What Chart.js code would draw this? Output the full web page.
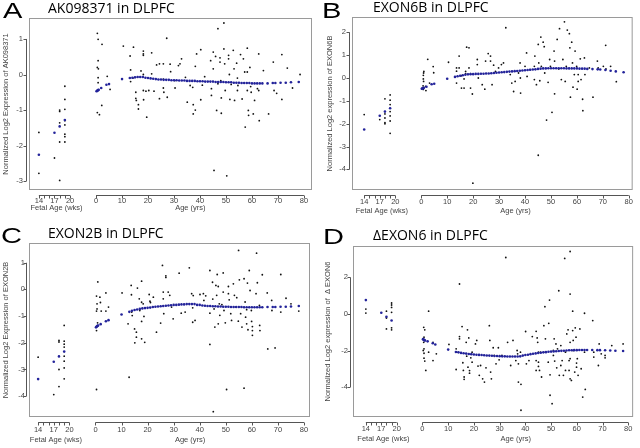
<!DOCTYPE html>
<html>
<head>
<meta charset="utf-8">
<script src="https://cdn.jsdelivr.net/npm/chart.js@4"></script>
<style>
  body { margin: 0; background: #fff; width: 640px; height: 448px; position: relative; overflow: hidden; }
  .panel { position: absolute; width: 320px; height: 224px; }
  .letter { position: absolute; font: 22px "Liberation Sans", sans-serif; line-height: 1; color: #000; transform: scaleX(1.32); transform-origin: 0 0; }
  .title { position: absolute; font: 14px "Open Sans", sans-serif; line-height: 1; color: #000; white-space: nowrap; }
</style>
</head>
<body>
<div class="panel" style="left:0;top:0"><canvas id="chartA" width="320" height="224"></canvas></div>
<div class="panel" style="left:320px;top:0"><canvas id="chartB" width="320" height="224"></canvas></div>
<div class="panel" style="left:0;top:224px"><canvas id="chartC" width="320" height="224"></canvas></div>
<div class="panel" style="left:320px;top:224px"><canvas id="chartD" width="320" height="224"></canvas></div>

<div class="letter" style="left:3px;top:0">A</div>
<div class="letter" style="left:322px;top:0">B</div>
<div class="letter" style="left:1px;top:225px">C</div>
<div class="letter" style="left:323px;top:226px">D</div>
<div class="title" style="left:48px;top:0.5px">AK098371 in DLPFC</div>
<div class="title" style="left:373px;top:0">EXON6B in DLPFC</div>
<div class="title" style="left:48px;top:225.5px">EXON2B in DLPFC</div>
<div class="title" style="left:373px;top:228px">ΔEXON6 in DLPFC</div>

<script>
// tick labels
const fetalTickWeeks = [14, 15, 16, 17, 18, 19, 20];
const fetalLabelWeeks = [14, 17, 20];
const yearTicks = [0, 10, 20, 30, 40, 50, 60, 70, 80];

// ages where the smoothed (blue) curve is plotted, shared by all panels
const fetalFitWeeks = [14, 17, 18, 19];
const fitAges = [0.2, 0.4, 0.6, 0.8, 1, 2, 4, 5, 10,
  13, 14, 15, 16, 17, 18, 19,
  20, 21, 22, 23, 24, 25, 26, 27, 28, 29,
  30, 31, 32, 33, 34, 35, 36, 37, 38, 39,
  40, 41, 42, 43, 44, 45, 46, 47, 48, 49,
  50, 51, 52, 53, 54, 55, 56, 57, 58, 59,
  60, 61, 62, 63, 64, 66, 68, 69, 71, 73, 75, 78];

// ---- A: AK098371 ----
const fetalA = [[14,-1.63],[14,-2.78],[17,-2.35],[18,-1.0],[18,-1.04],[18,-1.36],[18,-1.9],[18,-2.98],
  [19,-0.33],[19,-0.7],[19,-0.98],[19,-1.3],[19,-1.42],[19,-1.68],[19,-1.75],[19,-1.9]];
const fetalFitA = [-2.26, -1.64, -1.46, -1.28];
const postnatalA = [[0.5,1.16],[0.8,0.99],[2.3,0.85],[0.8,0.39],[0.5,0.2],[0.9,0.16],[0.8,-0.09],[0.8,-0.23],
  [4.3,-0.05],[5.4,-0.42],[2.2,-0.87],[0.5,-1.07],[1.3,-1.13],
  [10.5,0.8],[13.1,0.52],[13.3,0.13],[13.3,-0.2],[14.4,0.77],[14.2,-0.1],[15.3,-0.5],[15.3,-0.67],[15.5,-0.73],
  [16.3,-0.85],[16.3,-0.97],[17.3,0.1],[18.2,0.66],[18.2,0.58],[18.2,0.54],[18.2,0.0],[18.2,-0.45],[18.3,-0.71],
  [19.2,-0.47],[19.5,-1.2],[20.3,-0.45],[21.4,0.61],[21.4,0.02],[22.3,-0.47],[23.3,0.27],[24.4,0.3],[24.4,-0.68],
  [25.9,0.3],[25.9,-0.13],[25.9,-0.38],[26.1,-0.5],[27.2,1.02],[27.4,-0.64],[28.5,0.29],[28.7,0.08],[30.3,-0.17],
  [30.4,-0.38],[31.7,0.25],[32.3,0.3],[32.9,0.44],[34.4,-0.08],[35.1,-0.78],[36.2,-0.31],[37.2,-0.36],[37.4,-0.85],
  [37.4,-1.11],[38.2,-1.0],[38.2,0.23],[38.7,0.58],[40.3,0.7],[40.3,-0.71],[40.9,-0.3],[41.8,-0.06],[44.1,0.39],
  [44.4,-0.4],[44.4,-0.59],[45.1,0.63],[45.1,0.16],[45.4,-2.7],[46.0,0.51],[46.4,-1.01],[46.9,1.29],[46.9,-0.26],
  [47.7,0.35],[47.7,0.47],[48.0,-0.17],[48.2,-1.09],[48.2,-0.66],[49.2,1.45],[49.2,0.72],[49.5,0.3],[49.7,-0.45],
  [50.3,-2.85],[51.0,0.54],[51.0,0.44],[51.3,0.0],[51.5,-0.7],[52.0,-0.28],[52.8,0.68],[53.1,0.16],[53.3,-0.73],
  [54.1,0.32],[54.4,-0.1],[54.4,-0.45],[54.6,-0.31],[55.6,0.56],[56.2,-0.69],[56.7,0.44],[57.2,0.07],[57.4,-1.48],
  [58.2,0.74],[58.2,0.07],[58.2,-0.45],[58.6,-1.01],[58.7,-1.15],[59.2,0.2],[59.5,-0.34],[59.7,-0.5],[60.5,-1.11],
  [61.0,-0.73],[62.1,-0.4],[62.6,0.58],[62.6,-0.45],[62.8,-1.3],[64.4,0.11],[66.4,-1.11],[68.2,0.35],[68.5,-0.45],
  [69.5,-0.53],[71.5,0.56],[71.5,-0.7],[73.6,0.18],[75.6,-0.38],[78.5,0.0]];
const fitA = [-0.47,-0.46,-0.45,-0.44,-0.43,-0.38,-0.29,-0.27,-0.13,
  -0.10,-0.09,-0.08,-0.07,-0.07,-0.07,-0.09,
  -0.10,-0.11,-0.12,-0.13,-0.14,-0.14,-0.15,-0.15,-0.15,-0.16,
  -0.16,-0.16,-0.17,-0.17,-0.17,-0.18,-0.18,-0.18,-0.18,-0.19,
  -0.19,-0.19,-0.20,-0.20,-0.20,-0.20,-0.21,-0.21,-0.21,-0.21,
  -0.22,-0.22,-0.22,-0.23,-0.23,-0.23,-0.24,-0.24,-0.24,-0.24,
  -0.25,-0.25,-0.25,-0.25,-0.25,-0.25,-0.24,-0.24,-0.23,-0.23,-0.22,-0.21];

// ---- B: EXON6B ----
const fetalB = [[14,-1.6],[17,-1.82],[18,-0.91],[18,-1.57],[18,-1.75],[18,-1.95],[18,-2.0],
  [19,-0.74],[19,-0.97],[19,-1.16],[19,-1.47],[19,-1.66],[19,-1.88],[19,-2.42]];
const fetalFitB = [-2.25, -1.65, -1.47, -1.32];
const postnatalB = [[1.0,0.29],[0.9,0.22],[0.8,0.12],[0.8,-0.04],[0.9,-0.15],[0.7,-0.34],[0.8,-0.5],[1.8,-0.55],
  [1.7,-0.37],[2.5,0.82],[3.2,-0.22],[4.6,0.5],[4.8,0.23],
  [10.5,0.69],[13.6,0.44],[13.6,0.3],[13.6,-0.22],[14.6,0.96],[14.6,0.44],[15.4,0.1],[15.5,-0.44],[16.5,-0.44],
  [16.5,-0.04],[17.1,0.29],[17.1,0.19],[17.5,1.35],[18.4,1.32],[18.4,0.44],[19.0,0.19],[19.0,-0.44],[19.7,-0.7],
  [19.9,-4.6],[21.6,0.81],[21.6,0.59],[22.0,0.0],[23.5,-0.29],[24.5,-0.49],[24.8,0.74],[25.8,1.07],[26.7,0.96],
  [26.7,0.74],[27.3,-0.29],[27.9,0.56],[28.6,0.29],[29.8,0.44],[30.9,0.59],[31.7,0.66],[32.6,2.2],[34.3,0.15],
  [34.9,-0.22],[35.6,-0.59],[36.2,-0.15],[37.5,0.22],[38.1,0.66],[38.2,0.0],[38.3,-0.66],[40.0,0.51],[40.6,1.1],
  [40.8,0.07],[41.9,0.37],[43.6,0.51],[43.6,-0.07],[43.8,0.96],[44.4,-0.29],[45.1,1.47],[45.1,-3.38],[45.3,0.66],
  [45.7,-0.12],[46.1,1.79],[46.3,0.51],[47.0,1.57],[47.4,1.37],[47.6,0.22],[48.3,-1.84],[48.9,-0.19],[49.5,0.81],
  [49.8,0.51],[50.4,-1.5],[51.2,1.18],[51.4,0.74],[51.4,-0.69],[52.4,1.69],[53.0,0.4],[53.3,2.16],[54.0,-0.07],
  [54.6,0.81],[55.2,2.46],[55.5,-0.15],[55.9,0.51],[56.3,2.1],[57.1,1.94],[57.3,1.32],[57.5,-0.84],[58.0,1.57],
  [58.3,0.66],[58.5,-0.4],[59.0,0.15],[59.3,1.18],[59.9,0.51],[60.1,-0.49],[60.5,0.15],[60.5,-0.15],[61.3,0.84],
  [61.6,-0.07],[62.2,-0.93],[62.3,-1.43],[62.9,0.88],[63.1,0.15],[64.8,0.44],[66.2,-0.84],[67.9,0.74],[68.2,0.44],
  [70.2,0.51],[71.1,1.43],[71.2,0.4],[73.0,0.51],[75.2,-0.16]];
const fitB = [-0.47,-0.46,-0.45,-0.44,-0.43,-0.38,-0.27,-0.25,-0.03,
  0.05,0.08,0.10,0.12,0.14,0.16,0.17,
  0.17,0.18,0.18,0.19,0.19,0.20,0.20,0.21,0.22,0.23,
  0.24,0.25,0.26,0.27,0.28,0.29,0.30,0.31,0.32,0.33,
  0.34,0.35,0.36,0.37,0.38,0.40,0.41,0.42,0.42,0.43,
  0.43,0.43,0.43,0.43,0.43,0.43,0.42,0.42,0.42,0.42,
  0.42,0.41,0.41,0.41,0.40,0.39,0.38,0.37,0.35,0.32,0.29,0.25];

// ---- C: EXON2B ----
const fetalC = [[14,-2.54],[17,-3.94],[18,-1.91],[18,-1.97],[18,-3.0],[18,-3.64],
  [19,-1.35],[19,-1.94],[19,-2.05],[19,-2.16],[19,-2.5],[19,-2.69],[19,-2.94],[19,-3.35]];
const fetalFitC = [-3.36, -2.71, -2.51, -2.33];
const postnatalC = [[0.4,-0.25],[0.6,-0.54],[0.6,-0.73],[0.4,-0.81],[0.8,-1.25],[0.4,-1.54],[0.4,-3.75],[0.9,0.28],
  [1.7,-0.29],[1.9,-0.49],[2.2,-0.81],[4.0,-0.13],[4.0,-0.81],[5.0,-0.66],
  [10.2,-0.13],[12.5,-1.29],[12.9,-3.29],[13.7,0.15],[13.8,-0.2],[13.9,-0.85],[14.1,-0.98],[15.0,-1.48],[15.1,-2.0],
  [15.7,-1.6],[15.7,-1.79],[16.1,0.05],[16.8,-0.35],[17.0,-0.79],[17.7,0.31],[17.7,-0.48],[17.7,-1.2],[17.7,-1.85],
  [18.3,-0.54],[18.6,-1.01],[18.9,-1.98],[20.6,-0.19],[20.9,-0.44],[21.1,-0.49],[22.2,-0.29],[23.4,-1.6],[25.0,-1.26],
  [25.7,0.9],[26.0,-0.1],[26.0,-0.35],[26.2,-0.91],[27.0,0.51],[27.0,0.45],[27.9,-0.1],[28.5,-0.22],[29.2,-0.66],
  [29.8,-1.1],[32.1,0.61],[32.9,-0.89],[34.4,-0.85],[36.0,0.81],[36.9,-0.16],[37.3,-0.69],[37.3,-1.23],[37.5,-0.23],
  [38.2,-1.16],[40.1,-0.19],[41.4,-0.16],[41.6,-0.41],[42.3,-0.24],[43.9,0.71],[43.9,-0.89],[43.9,-2.06],[44.9,0.27],
  [45.0,-0.36],[45.2,-4.58],[45.5,-0.73],[45.8,-1.41],[46.2,0.15],[46.5,-0.22],[46.7,0.56],[47.1,0.11],[47.1,-1.29],
  [47.5,-0.54],[47.7,-0.97],[48.5,-0.57],[49.0,0.62],[49.0,-0.1],[49.3,-0.79],[49.8,-1.25],[50.3,-3.75],[51.0,0.11],
  [51.0,-0.16],[51.3,-0.39],[51.9,-0.91],[52.2,-1.16],[52.9,0.21],[53.3,-0.22],[53.9,-0.66],[54.2,-0.31],[54.8,-1.19],
  [54.9,1.46],[55.2,0.36],[55.7,-0.91],[56.2,-1.41],[57.0,0.4],[57.0,-3.7],[57.4,-0.47],[57.6,-1.04],[58.0,-0.76],
  [58.0,-1.29],[58.3,0.24],[58.5,-1.51],[59.0,0.71],[59.3,-0.04],[59.8,-0.79],[59.9,-1.2],[60.2,-1.39],[60.2,-1.54],
  [60.2,-1.72],[61.6,-0.16],[61.8,1.36],[62.1,0.25],[62.9,-0.6],[63.0,-1.35],[63.1,-1.54],[64.0,0.55],[65.9,-0.13],
  [66.1,-2.23],[67.6,-0.41],[67.7,-0.79],[68.9,-2.19],[71.1,0.56],[71.1,-0.85],[73.1,-0.33],[75.0,-0.54],[78.0,-0.81]];
const fitC = [-1.42,-1.40,-1.38,-1.36,-1.35,-1.30,-1.19,-1.15,-0.94,
  -0.84,-0.80,-0.77,-0.75,-0.73,-0.71,-0.70,
  -0.69,-0.68,-0.66,-0.65,-0.64,-0.63,-0.62,-0.61,-0.60,-0.59,
  -0.58,-0.58,-0.57,-0.56,-0.56,-0.55,-0.55,-0.55,-0.55,-0.58,
  -0.58,-0.60,-0.61,-0.62,-0.62,-0.63,-0.63,-0.64,-0.64,-0.65,
  -0.65,-0.65,-0.66,-0.66,-0.66,-0.66,-0.66,-0.67,-0.67,-0.67,
  -0.67,-0.67,-0.67,-0.67,-0.67,-0.66,-0.66,-0.66,-0.65,-0.65,-0.64,-0.62];

// ---- D: delta EXON6 ----
const fetalD = [[14,0.27],[14,0.05],[18,0.15],[18,-0.22],[18,-0.82],
  [19,0.6],[19,0.49],[19,0.36],[19,0.09],[19,-0.76],[19,-0.87]];
const fetalFitD = [0.76, 0.07, -0.15, -0.36];
const postnatalD = [[0.5,-0.73],[0.9,-0.87],[0.6,-1.27],[0.5,-1.55],[0.6,-1.91],[0.3,-2.0],[0.6,-2.15],[0.6,-2.42],
  [0.9,-2.58],[1.3,-3.09],[2.4,0.15],[2.4,-2.09],[4.1,-1.55],[4.1,-2.55],[5.4,-2.18],
  [10.3,-1.67],[13.1,-1.91],[13.1,-3.04],[13.3,-2.09],[14.4,-1.24],[14.4,-1.36],[14.4,1.64],[15.4,-0.69],[15.7,-2.67],
  [15.9,-3.09],[16.2,-3.45],[16.2,-3.58],[17.0,-1.55],[17.2,-2.31],[17.5,-0.87],[17.7,-2.91],[18.0,-1.31],[18.3,-3.1],
  [18.3,-3.24],[18.8,-2.4],[19.3,-2.09],[19.3,-2.64],[20.6,-1.64],[21.1,-1.45],[21.6,-2.85],[22.1,-3.36],[22.6,-2.82],
  [23.4,-3.55],[24.1,-3.73],[24.7,-2.95],[26.0,-0.64],[26.2,-1.45],[26.5,-3.18],[26.8,-3.55],[27.5,-1.85],[27.9,-2.27],
  [28.6,-2.73],[29.5,-1.85],[29.8,-2.51],[30.9,-2.27],[32.4,3.09],[33.1,-1.55],[34.3,-2.82],[35.2,-1.45],[36.3,-2.55],
  [36.8,-2.0],[37.0,-2.18],[37.3,-2.73],[37.3,-3.73],[38.1,-2.09],[38.3,-3.85],[38.3,-5.27],[40.1,-0.96],[40.4,-2.73],
  [41.4,-2.55],[42.7,-1.24],[44.2,-0.95],[44.2,-2.55],[44.2,-3.09],[44.6,-1.31],[44.8,-1.55],[45.1,-2.09],[45.1,-2.64],
  [45.1,-2.87],[45.5,-3.09],[45.9,-2.09],[46.3,-3.45],[47.2,-0.64],[47.6,0.4],[47.8,-1.36],[47.8,-2.09],[48.9,-2.64],
  [49.1,-0.51],[49.4,0.76],[49.6,-3.33],[49.6,-4.45],[50.4,-4.91],[50.9,-2.0],[50.9,-2.27],[51.2,-1.36],[51.4,-2.58],
  [51.9,-1.64],[52.2,-2.95],[52.5,-1.91],[53.0,1.27],[53.2,-3.36],[53.8,-1.73],[53.8,-2.82],[54.3,-2.55],[54.8,-3.36],
  [55.3,3.04],[55.6,-2.09],[55.6,-3.09],[56.1,-1.09],[56.6,-0.87],[57.0,-2.55],[57.0,-3.09],[57.4,3.42],[57.4,1.09],
  [57.4,-1.55],[57.4,-2.45],[57.4,-3.55],[57.9,-3.64],[58.4,0.15],[58.4,-0.91],[58.6,-1.45],[58.6,-2.0],[59.2,-3.18],
  [59.4,-0.76],[59.7,-1.27],[59.9,-2.69],[59.9,-2.91],[60.2,-2.45],[60.5,-3.36],[61.2,-0.82],[61.7,-3.0],[62.3,-4.55],
  [63.0,0.04],[63.0,-2.09],[63.3,-4.13],[66.2,-0.36],[66.6,-2.09],[66.6,-2.36],[68.4,-2.82],[68.7,-1.64],[69.5,-2.18],
  [71.0,-2.27],[71.0,-2.4],[73.6,-1.73],[78.0,-1.64]];
const fitD = [-1.38,-1.40,-1.42,-1.44,-1.45,-1.50,-1.60,-1.67,-1.95,
  -2.08,-2.10,-2.13,-2.15,-2.17,-2.19,-2.20,
  -2.22,-2.23,-2.24,-2.25,-2.26,-2.27,-2.28,-2.29,-2.30,-2.30,
  -2.31,-2.32,-2.32,-2.33,-2.33,-2.33,-2.33,-2.33,-2.32,-2.28,
  -2.25,-2.23,-2.20,-2.18,-2.16,-2.14,-2.12,-2.10,-2.09,-2.07,
  -2.06,-2.05,-2.04,-2.03,-2.02,-2.01,-2.00,-1.99,-1.99,-1.98,
  -1.98,-1.97,-1.97,-1.97,-1.97,-1.97,-1.98,-1.98,-1.99,-2.00,-2.01,-2.03];

// fetal weeks sit on the same x axis, left of birth (20 wks -> -10, 2 units per week)
const wk = w => -10 - (20 - w) * 2;

const W = 320, H = 224;
const AXIS_TEXT = "#444";
const tickFont = { family: "Liberation Sans", size: 7.5 };

const xLabels = new Map();
fetalTickWeeks.forEach(w => xLabels.set(wk(w), fetalLabelWeeks.includes(w) ? String(w) : ""));
yearTicks.forEach(y => xLabels.set(y, String(y)));

// frame, R-style detached axes and the two x captions
const axesPlugin = {
  id: "rAxes",
  afterDraw(chart) {
    const { ctx, chartArea: a, scales: { x, y } } = chart;
    const p = chart.options.plugins.rAxes;
    ctx.save();
    ctx.lineWidth = 1;
    ctx.strokeStyle = "#9a9a9a";
    ctx.strokeRect(a.left + 0.5, a.top + 0.5, a.right - a.left - 1, a.bottom - a.top - 1);

    ctx.strokeStyle = "#555";
    ctx.beginPath();
    const ay = Math.round(a.bottom + 5) + 0.5;
    [[wk(14), wk(20)], [0, 80]].forEach(([s, e]) => {
      ctx.moveTo(x.getPixelForValue(s), ay);
      ctx.lineTo(x.getPixelForValue(e), ay);
    });
    x.ticks.forEach(t => {
      const px = Math.round(x.getPixelForValue(t.value)) + 0.5;
      ctx.moveTo(px, ay);
      ctx.lineTo(px, ay + 3);
    });
    const ax = Math.round(a.left - 3) + 0.5;
    const yt = y.ticks.map(t => t.value);
    ctx.moveTo(ax, y.getPixelForValue(Math.min(...yt)));
    ctx.lineTo(ax, y.getPixelForValue(Math.max(...yt)));
    y.ticks.forEach(t => {
      const py = Math.round(y.getPixelForValue(t.value)) + 0.5;
      ctx.moveTo(ax, py);
      ctx.lineTo(ax - 3, py);
    });
    ctx.stroke();

    ctx.fillStyle = AXIS_TEXT;
    ctx.font = "7.5px 'Liberation Sans'";
    ctx.textAlign = "center";
    ctx.textBaseline = "middle";
    ctx.fillText("Fetal Age (wks)", x.getPixelForValue(wk(17.4)), a.bottom + p.subY);
    ctx.fillText("Age (yrs)", x.getPixelForValue(36.3), a.bottom + p.subY);
    ctx.restore();
  }
};

function drawPanel(id, o) {
  const fitPts = fetalFitWeeks.map((w, i) => ({ x: wk(w), y: o.fetalFit[i] }))
    .concat(fitAges.map((age, i) => ({ x: age, y: o.fit[i] })));
  const dots = o.fetal.map(([w, v]) => ({ x: wk(w), y: v }))
    .concat(o.postnatal.map(([age, v]) => ({ x: age, y: v })));

  new Chart(document.getElementById(id), {
    type: "scatter",
    data: {
      datasets: [
        { data: fitPts, backgroundColor: "#23239a", pointRadius: 1.3, pointBorderWidth: 0 },
        { data: dots, backgroundColor: "#111", pointRadius: 0.9, pointBorderWidth: 0 }
      ]
    },
    plugins: [axesPlugin],
    options: {
      responsive: false,
      animation: false,
      events: [],
      layout: { padding: { top: o.area.t, right: W - o.area.r, left: 0, bottom: 0 } },
      plugins: {
        legend: { display: false },
        tooltip: { enabled: false },
        rAxes: { subY: o.subY }
      },
      scales: {
        x: {
          type: "linear",
          min: o.xMin,
          max: o.xMax,
          afterBuildTicks: s => { s.ticks = [...xLabels.keys()].map(v => ({ value: v })); },
          afterFit: s => { s.height = H - o.area.b; },
          grid: { display: false, drawTicks: false },
          border: { display: false },
          ticks: {
            autoSkip: false,
            maxRotation: 0,
            padding: o.xPad,
            color: AXIS_TEXT,
            font: tickFont,
            callback: v => xLabels.get(v) ?? ""
          }
        },
        y: {
          type: "linear",
          min: o.yMin,
          max: o.yMax,
          afterBuildTicks: s => { s.ticks = o.yTicks.map(v => ({ value: v })); },
          afterFit: s => { s.width = o.area.l; },
          grid: { display: false, drawTicks: false },
          border: { display: false },
          ticks: { padding: o.yPad, color: AXIS_TEXT, font: tickFont, callback: v => String(v) },
          title: {
            display: true,
            text: o.yTitle,
            color: AXIS_TEXT,
            font: { family: "Liberation Sans", size: 7.5 },
            padding: { top: o.titlePad, bottom: 0 }
          }
        }
      }
    }
  });
}

drawPanel("chartA", {
  fetal: fetalA, fetalFit: fetalFitA, postnatal: postnatalA, fit: fitA,
  area: { l: 29, t: 18, r: 312, b: 190 }, xMin: -25.8, xMax: 83.1,
  yMin: -3.25, yMax: 1.59, yTicks: [-3, -2, -1, 0, 1],
  xPad: 6, yPad: 6, titlePad: 1.3, subY: 18,
  yTitle: "Normalized Log2 Expression of AK098371"
});
drawPanel("chartB", {
  fetal: fetalB, fetalFit: fetalFitB, postnatal: postnatalB, fit: fitB,
  area: { l: 32, t: 17, r: 316, b: 190 }, xMin: -26.7, xMax: 81.5,
  yMin: -4.9, yMax: 2.67, yTicks: [-4, -3, -2, -1, 0, 1, 2],
  xPad: 7, yPad: 6, titlePad: 5.5, subY: 21,
  yTitle: "Normalized Log2 expression of EXON6B"
});
drawPanel("chartC", {
  fetal: fetalC, fetalFit: fetalFitC, postnatal: postnatalC, fit: fitC,
  area: { l: 29, t: 19, r: 310, b: 193 }, xMin: -25.5, xMax: 82.3,
  yMin: -4.78, yMax: 1.74, yTicks: [-4, -3, -2, -1, 0, 1],
  xPad: 8, yPad: 4, titlePad: 1, subY: 23,
  yTitle: "Normalized Log2 Expression of EXON2B"
});
drawPanel("chartD", {
  fetal: fetalD, fetalFit: fetalFitD, postnatal: postnatalD, fit: fitD,
  area: { l: 33, t: 22, r: 315, b: 193 }, xMin: -27.0, xMax: 81.9,
  yMin: -5.64, yMax: 3.72, yTicks: [-4, -2, 0, 2],
  xPad: 7.5, yPad: 5, titlePad: 3, subY: 22,
  yTitle: "Normalized Log2 expression of  Δ EXON6"
});
</script>
</body>
</html>
